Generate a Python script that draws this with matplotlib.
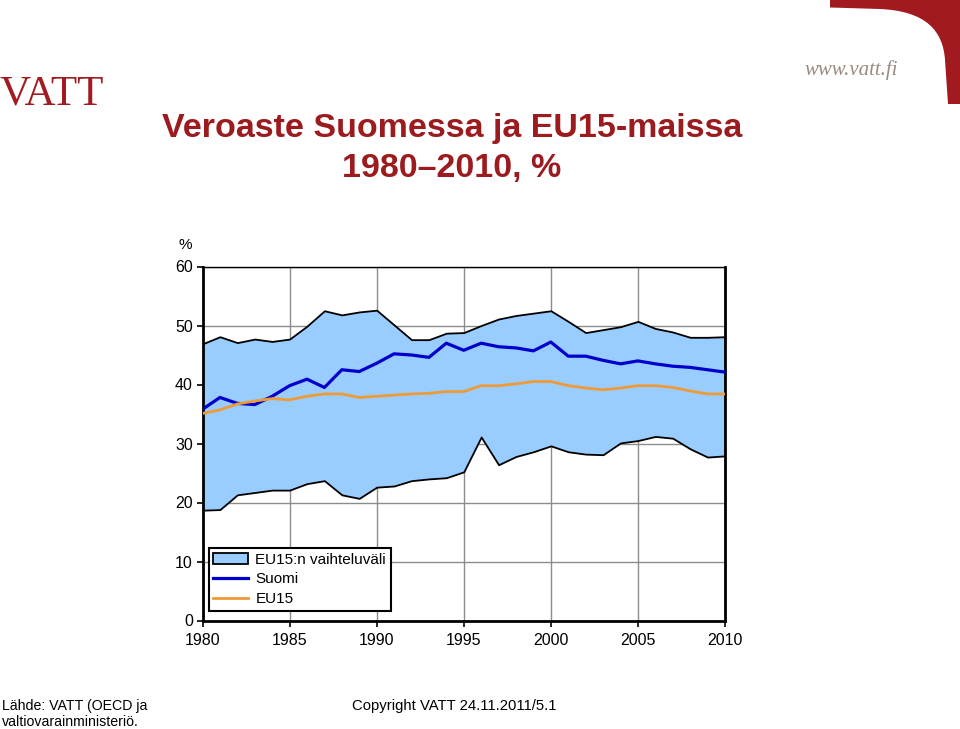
import matplotlib
matplotlib.use("Agg")
import matplotlib.pyplot as plt
from matplotlib.patches import Patch, PathPatch
from matplotlib.lines import Line2D
from matplotlib.path import Path

plt.rcParams['font.family'] = ['Liberation Sans', 'DejaVu Sans']

years = list(range(1980, 2011))
eu_max = [46.9, 48.1, 47.1, 47.7, 47.3, 47.7, 49.9, 52.5, 51.8, 52.3,
          52.6, 50.1, 47.6, 47.6, 48.7, 48.8, 50.0, 51.1, 51.7, 52.1,
          52.5, 50.7, 48.8, 49.3, 49.8, 50.7, 49.5, 48.9, 48.0, 48.0, 48.1]
eu_min = [18.7, 18.8, 21.3, 21.7, 22.1, 22.1, 23.2, 23.7, 21.3, 20.7,
          22.6, 22.8, 23.7, 24.0, 24.2, 25.2, 31.1, 26.4, 27.8, 28.6,
          29.6, 28.6, 28.2, 28.1, 30.1, 30.5, 31.2, 30.9, 29.1, 27.7, 27.9]
suomi = [35.8, 37.8, 36.8, 36.6, 38.0, 39.8, 40.9, 39.5, 42.5, 42.2,
         43.6, 45.2, 45.0, 44.6, 47.0, 45.8, 47.0, 46.4, 46.2, 45.7,
         47.2, 44.8, 44.8, 44.1, 43.5, 44.0, 43.5, 43.1, 42.9, 42.5, 42.1]
eu15 = [35.1, 35.7, 36.7, 37.2, 37.6, 37.4, 38.0, 38.4, 38.4, 37.8,
        38.0, 38.2, 38.4, 38.5, 38.8, 38.8, 39.8, 39.8, 40.1, 40.5,
        40.5, 39.8, 39.4, 39.1, 39.4, 39.8, 39.8, 39.5, 38.9, 38.4, 38.4]

x_ticks = [1980, 1985, 1990, 1995, 2000, 2005, 2010]
y_ticks = [0, 10, 20, 30, 40, 50, 60]
labels = ["EU15:n vaihteluväli", "Suomi", "EU15"]

W, H = 960, 729
RED = '#9B1B1F'
fig = plt.figure(figsize=(9.6, 7.29), dpi=100)

# overlay for decorations (pixel coordinates)
deco = fig.add_axes([0, 0, 1, 1])
deco.set_xlim(0, W)
deco.set_ylim(H, 0)
deco.axis('off')

verts = [(830, 0), (830, 7.5), (880, 9), (925, 11), (943, 30), (945, 60),
         (948, 104), (960, 104), (960, 0), (830, 0)]
codes = [Path.MOVETO, Path.LINETO, Path.LINETO, Path.CURVE4, Path.CURVE4, Path.CURVE4,
         Path.LINETO, Path.LINETO, Path.LINETO, Path.CLOSEPOLY]
deco.add_patch(PathPatch(Path(verts, codes), facecolor='#A01A1F', edgecolor='none'))
deco.text(851, 75, "www.vatt.fi", fontsize=15, style='italic', color='#9A8A80',
          ha='center', va='baseline', family=['Liberation Serif', 'DejaVu Serif'])
deco.text(0, 104, "VATT", fontsize=31, color='#A01C22', ha='left', va='baseline',
          family=['Liberation Serif', 'DejaVu Serif'])

# titles
fig.text(452 / W, 1 - 137 / H, "Veroaste Suomessa ja EU15-maissa", fontsize=24.5,
         fontweight='bold', color=RED, ha='center', va='baseline')
fig.text(452 / W, 1 - 177 / H, "1980\u20132010, %", fontsize=24.5,
         fontweight='bold', color=RED, ha='center', va='baseline')

# main axes
ax = fig.add_axes([202.5 / W, 108.5 / H, 522.5 / W, 354 / H])
ax.fill_between(years, eu_min, eu_max, facecolor='#99CCFF', edgecolor='black',
                linewidth=1.3, zorder=2)
ax.plot(years, suomi, color='#0000CC', linewidth=2.3, zorder=3)
ax.plot(years, eu15, color='#EE9B35', linewidth=2.0, zorder=3)

ax.set_xlim(1980, 2010)
ax.set_ylim(0, 60)
ax.set_xticks(x_ticks)
ax.set_yticks(y_ticks)
ax.grid(True, color='#8C8C8C', linewidth=1.0, zorder=0)
ax.set_axisbelow(True)
ax.tick_params(axis='both', labelsize=11.5, direction='out', length=4, width=1.2,
               colors='black')
ax.tick_params(axis='y', pad=3)
ax.tick_params(axis='x', pad=5)
for side, lw in [('left', 2.0), ('bottom', 2.0), ('right', 2.0), ('top', 1.0)]:
    ax.spines[side].set_linewidth(lw)
    ax.spines[side].set_color('black')

handles = [Patch(facecolor='#99CCFF', edgecolor='black', linewidth=1.3),
           Line2D([], [], color='#0000CC', linewidth=2.3),
           Line2D([], [], color='#EE9B35', linewidth=2.0)]
leg = ax.legend(handles, labels, loc='upper left', bbox_to_anchor=(0.012, 0.205),
                borderaxespad=0, fontsize=11, frameon=True, fancybox=False,
                handlelength=2.3, handletextpad=0.45, labelspacing=0.38,
                borderpad=0.3, framealpha=1)
leg.get_frame().set_edgecolor('black')
leg.get_frame().set_linewidth(1.5)

fig.text(185 / W, 1 - 245 / H, "%", fontsize=11, ha='center', va='center')

fig.text(2 / W, 1 - 710 / H, "Lähde: VATT (OECD ja", fontsize=10.2, ha='left', va='baseline')
fig.text(2 / W, 1 - 726 / H, "valtiovarainministeriö.", fontsize=10.2, ha='left', va='baseline')
fig.text(352 / W, 1 - 710 / H, "Copyright VATT 24.11.2011/5.1", fontsize=10.7,
         ha='left', va='baseline')

fig.savefig("out.png", dpi=100)
